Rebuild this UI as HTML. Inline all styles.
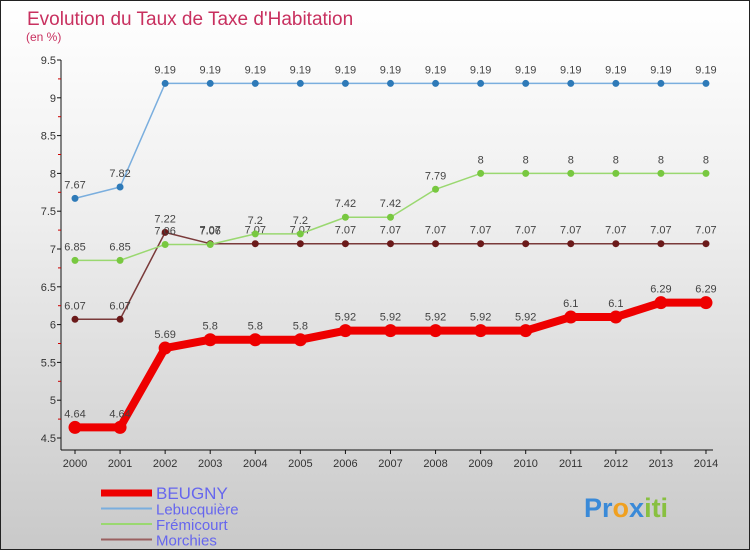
<!DOCTYPE html>
<html><head><meta charset="utf-8"><style>
body{margin:0;width:750px;height:550px;overflow:hidden;font-family:"Liberation Sans",sans-serif}
#wrap{position:relative;width:748px;height:548px;border:1px solid #222;background:linear-gradient(#ffffff 0%,#eeeeee 40%,#c9c9c9 100%)}
</style></head><body>
<div id="wrap">
<svg id="chart" width="748" height="548" style="position:absolute;left:0;top:0"></svg>
</div>
<script>
const years=[2000,2001,2002,2003,2004,2005,2006,2007,2008,2009,2010,2011,2012,2013,2014];
const beugny=[4.64,4.64,5.69,5.8,5.8,5.8,5.92,5.92,5.92,5.92,5.92,6.1,6.1,6.29,6.29];
const lebuc=[7.67,7.82,9.19,9.19,9.19,9.19,9.19,9.19,9.19,9.19,9.19,9.19,9.19,9.19,9.19];
const fremi=[6.85,6.85,7.06,7.06,7.2,7.2,7.42,7.42,7.79,8,8,8,8,8,8];
const morch=[6.07,6.07,7.22,7.07,7.07,7.07,7.07,7.07,7.07,7.07,7.07,7.07,7.07,7.07,7.07];
const yTicks=[4.5,5,5.5,6,6.5,7,7.5,8,8.5,9,9.5];
const seriesNames=["BEUGNY","Lebucquière","Frémicourt","Morchies"];
const NS="http://www.w3.org/2000/svg";
const svg=document.getElementById('chart');
const X=i=>74+i*45.07, Y=v=>437-(v-4.5)*75.6;
function mk(t,a,p){const e=document.createElementNS(NS,t);for(const k in a)e.setAttribute(k,a[k]);(p||svg).appendChild(e);return e;}
let t=mk('text',{x:26,y:24,fill:'#c8305f','font-size':19});t.textContent="Evolution du Taux de Taxe d'Habitation";

t=mk('text',{x:25,y:40,fill:'#c8305f','font-size':12});t.textContent="(en %)";

let ax=mk('line',{x1:60,y1:Y(9.5),x2:60,y2:449,stroke:'#111'});

ax=mk('line',{x1:60,y1:449,x2:712,y2:449,stroke:'#111'});

yTicks.forEach((v,k)=>{mk('line',{x1:56,y1:Y(v),x2:60,y2:Y(v),stroke:'#111'});
 if(k<yTicks.length-1)mk('line',{x1:57,y1:Y(v+0.25),x2:60,y2:Y(v+0.25),stroke:'#c00'});
 const l=mk('text',{x:55,y:Y(v)+4,'text-anchor':'end','font-size':11,fill:'#333'});l.textContent=String(v);
 });
years.forEach((yr,i)=>{mk('line',{x1:X(i),y1:449,x2:X(i),y2:453,stroke:'#111'});
 const l=mk('text',{x:X(i),y:466,'text-anchor':'middle','font-size':11,fill:'#333'});l.textContent=yr;
 });
function series(d,col,w,r,name,dot){const g=mk('g',{});
 mk('polyline',{points:d.map((v,i)=>X(i)+','+Y(v)).join(' '),fill:'none',stroke:col,'stroke-width':w,'stroke-linejoin':'round'},g);
 d.forEach((v,i)=>{const c=mk('circle',{cx:X(i),cy:Y(v),r:r,fill:dot},g);
  const l=mk('text',{x:X(i),y:Y(v)-10,'text-anchor':'middle','font-size':11,fill:'#444'},g);l.textContent=String(v);});}
series(morch,'#7a3a3a',1.5,3.5,'morchies-series','#6b1a1a');
series(fremi,'#9ad870',1.5,3.5,'fremicourt-series','#78c840');
series(lebuc,'#7aaede',1.5,3.5,'lebucquiere-series','#2e7ab8');
series(beugny,'#ee0000',8,6.5,'beugny-series','#ee0000');
const lc=['#ee0000','#7aaede','#9ad870','#9a6060'],lw=[7,2,2,2];
seriesNames.forEach((n,k)=>{const g=mk('g',{});
 const y=492+k*15.5;mk('line',{x1:100,y1:y,x2:151,y2:y,stroke:lc[k],'stroke-width':lw[k]},g);
 const l=mk('text',{x:155,y:y+6,'font-size':k==0?17:15,fill:'#6666ee'},g);l.textContent=n;});
const lg=mk('text',{x:583,y:516,'font-size':27,'font-weight':'bold',fill:'#f0a020'});
lg.innerHTML='<tspan fill="#3a8ad8">Pr</tspan><tspan fill="#f0a020">o</tspan><tspan fill="#3a8ad8">x</tspan><tspan fill="#88c040">iti</tspan>';

</script>
</body></html>
